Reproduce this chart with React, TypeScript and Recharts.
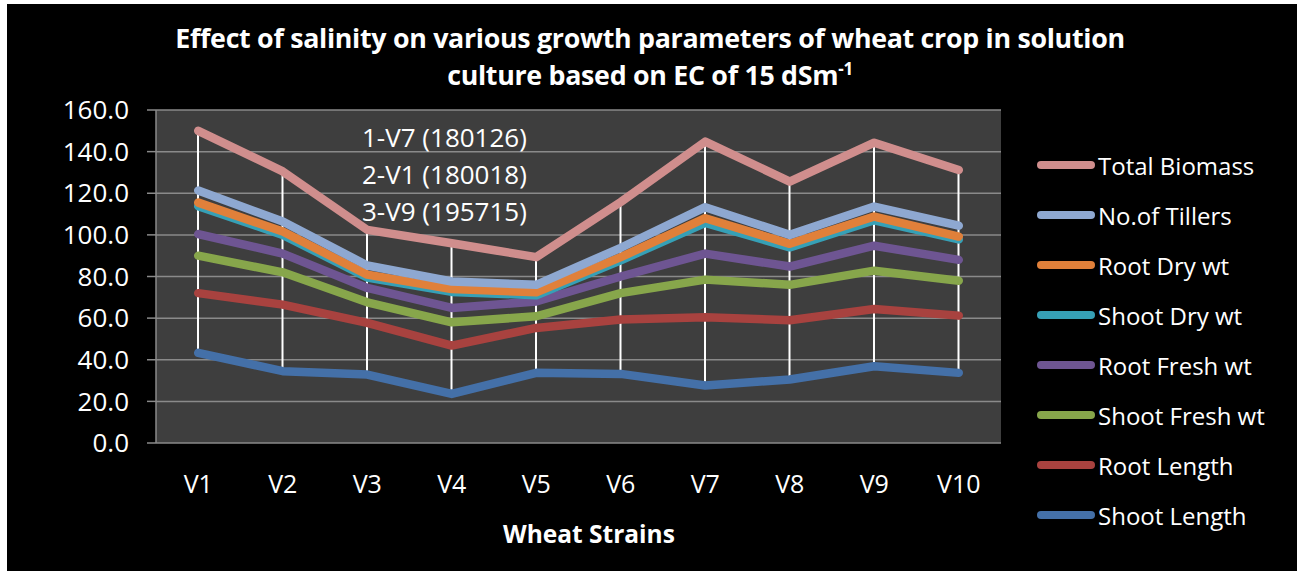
import React from 'react';
import { ComposedChart, Line, Bar, XAxis, YAxis, CartesianGrid } from 'recharts';

const strains = ['V1', 'V2', 'V3', 'V4', 'V5', 'V6', 'V7', 'V8', 'V9', 'V10'];

const totalBiomass = [150.0, 130.5, 102.4, 96.0, 89.3, 115.8, 144.8, 125.6, 144.3, 131.2];
const noOfTillers = [121.3, 106.4, 85.3, 77.6, 76.0, 93.8, 113.3, 100.0, 113.6, 104.4];
const rootDryWt = [115.5, 101.6, 80.9, 74.0, 72.4, 89.3, 108.0, 95.7, 108.8, 99.2];
const shootDryWt = [113.8, 100.0, 79.5, 72.6, 71.0, 87.8, 105.8, 94.0, 107.0, 97.8];
const rootFreshWt = [100.4, 91.0, 74.5, 64.9, 68.0, 80.0, 91.0, 84.8, 94.8, 88.0];
const shootFreshWt = [90.0, 82.0, 67.6, 58.0, 60.9, 72.0, 78.5, 76.0, 82.8, 78.0];
const rootLength = [72.0, 66.5, 57.7, 46.8, 55.3, 59.3, 60.4, 59.0, 64.4, 61.2];
const shootLength = [43.3, 34.5, 32.9, 23.6, 33.7, 33.2, 27.6, 30.5, 36.9, 33.7];

const yTicks = [0, 20, 40, 60, 80, 100, 120, 140, 160];
const notes = ['1-V7 (180126)', '2-V1 (180018)', '3-V9 (195715)'];

// drawn bottom-up so the upper series sit on top; legend is listed in reverse
const series = [
  { key: 'shootLength', name: 'Shoot Length', values: shootLength, color: '#4470a8' },
  { key: 'rootLength', name: 'Root Length', values: rootLength, color: '#a8423f' },
  { key: 'shootFreshWt', name: 'Shoot Fresh wt', values: shootFreshWt, color: '#87a64b' },
  { key: 'rootFreshWt', name: 'Root Fresh wt', values: rootFreshWt, color: '#6e5592' },
  { key: 'shootDryWt', name: 'Shoot Dry wt', values: shootDryWt, color: '#36a0b6' },
  { key: 'rootDryWt', name: 'Root Dry wt', values: rootDryWt, color: '#e0803a' },
  { key: 'noOfTillers', name: 'No.of Tillers', values: noOfTillers, color: '#8ea8d1' },
  { key: 'totalBiomass', name: 'Total Biomass', values: totalBiomass, color: '#d08e8d' },
];

const data = strains.map((s, i) => {
  const row: Record<string, any> = { strain: s };
  const vals = series.map(se => se.values[i]);
  series.forEach(se => { row[se.key] = se.values[i]; });
  row.hl = [Math.min(...vals), Math.max(...vals)];
  return row;
});

const FONT = "'Open Sans', sans-serif";

export default function App() {
  return (
    <div style={{ position: 'absolute', left: 0, top: 0, width: 1297, height: 571, background: '#fff', fontFamily: FONT }}>
      <div style={{ position: 'absolute', left: 7, top: 4, width: 1290, height: 567, background: '#000' }} />

      <div style={{ position: 'absolute', left: 0, top: 19, width: 1300, textAlign: 'center', color: '#fff', fontWeight: 700, fontSize: 26.8, lineHeight: '37px', letterSpacing: -0.3 }}>
        Effect of salinity on various growth parameters of wheat crop in solution<br />
        culture based on EC of 15 dSm<sup style={{ fontSize: 17, lineHeight: 0 }}>-1</sup>
      </div>

      <div style={{ position: 'absolute', left: 0, top: 0 }}>
        <ComposedChart width={1297} height={571} data={data} margin={{ top: 110, right: 296, bottom: 88, left: 92 }}>
          <CartesianGrid vertical={false} stroke="#8a8a8a" strokeWidth={1.5} fill="#3e3e3e" />
          <XAxis
            dataKey="strain"
            axisLine={false}
            tickLine={false}
            height={40}
            tick={{ fill: '#fff', fontSize: 25, fontFamily: FONT }}
            tickMargin={26}
            interval={0}
          />
          <YAxis
            domain={[0, 160]}
            ticks={yTicks}
            width={64}
            tickFormatter={(v: number) => v.toFixed(1)}
            axisLine={{ stroke: '#8a8a8a', strokeWidth: 1.5 }}
            tickLine={{ stroke: '#8a8a8a', strokeWidth: 1.5 }}
            tickSize={9}
            tickMargin={18}
            tick={{ fill: '#fff', fontSize: 26, fontFamily: FONT }}
          />
          {series.map(se => (
            <Line
              key={se.key}
              dataKey={se.key}
              name={se.name}
              stroke={se.color}
              strokeWidth={8.5}
              strokeLinecap="round"
              strokeLinejoin="round"
              dot={false}
              activeDot={false}
              isAnimationActive={false}
            />
          ))}
          <Bar dataKey="hl" barSize={2} fill="#ffffff" isAnimationActive={false} />
        </ComposedChart>
      </div>

      {notes.map((n, i) => (
        <div key={n} style={{ position: 'absolute', left: 362, top: 119 + i * 37, color: '#fff', fontSize: 26, lineHeight: '36px' }}>
          {n}
        </div>
      ))}

      <div style={{ position: 'absolute', left: 503, top: 517, color: '#fff', fontWeight: 700, fontSize: 24.5 }}>
        Wheat Strains
      </div>

      <div style={{ position: 'absolute', left: 1037, top: 140 }}>
        {[...series].reverse().map(se => (
          <div key={se.key} style={{ display: 'flex', alignItems: 'center', height: 50 }}>
            <div style={{ width: 58, height: 8, borderRadius: 4, background: se.color }} />
            <span style={{ color: '#fff', fontSize: 24, marginLeft: 3, whiteSpace: 'nowrap' }}>{se.name}</span>
          </div>
        ))}
      </div>
    </div>
  );
}
